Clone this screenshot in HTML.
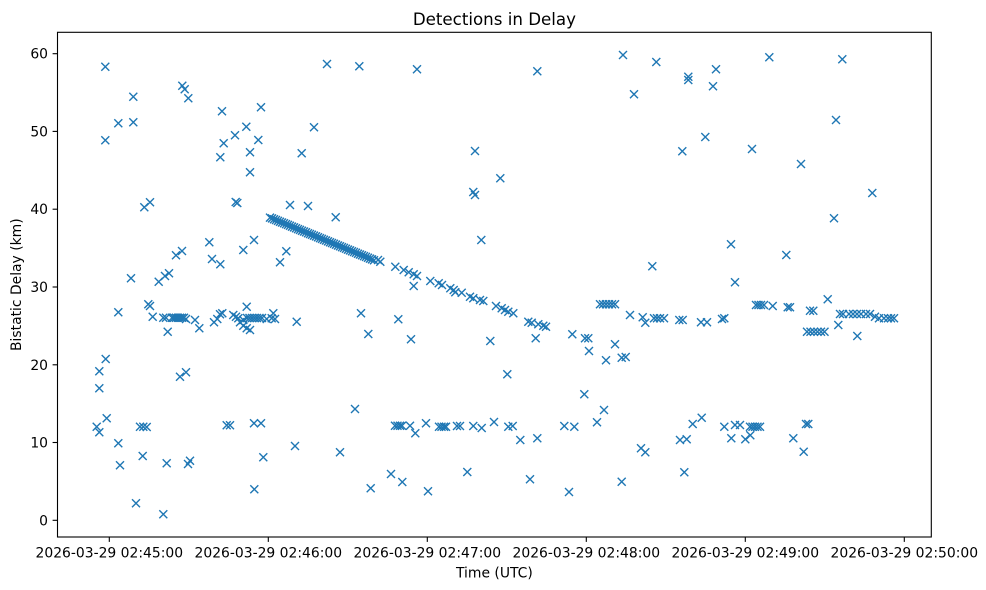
<!DOCTYPE html>
<html><head><meta charset="utf-8"><style>
html,body{margin:0;padding:0;background:#fff;}
svg{display:block;}
text{font-family:"DejaVu Sans","Liberation Sans",sans-serif;fill:#000;}
</style></head><body>
<svg width="986" height="590" viewBox="0 0 986 590" xmlns="http://www.w3.org/2000/svg">
<defs><path id="m" d="M-4,-4L4,4M-4,4L4,-4" stroke="#1f77b4" stroke-width="1.4" fill="none"/></defs>
<rect x="0" y="0" width="986" height="590" fill="#fff"/>
<text x="494.4" y="25" font-size="16.67" text-anchor="middle">Detections in Delay</text>
<g id="pts">
<use href="#m" x="105.3" y="66.7"/><use href="#m" x="133.3" y="96.7"/><use href="#m" x="118.3" y="123.3"/><use href="#m" x="133.3" y="122.3"/><use href="#m" x="105.3" y="140.3"/><use href="#m" x="182.3" y="85.7"/><use href="#m" x="184.7" y="89.3"/><use href="#m" x="188.3" y="98.3"/><use href="#m" x="222" y="111.3"/><use href="#m" x="261" y="107.3"/><use href="#m" x="246.3" y="126.7"/><use href="#m" x="235" y="135.3"/><use href="#m" x="223.7" y="143.3"/><use href="#m" x="258.3" y="140"/><use href="#m" x="220.3" y="157.3"/><use href="#m" x="250" y="152.3"/><use href="#m" x="250" y="172.3"/><use href="#m" x="327" y="64"/><use href="#m" x="314" y="127.3"/><use href="#m" x="301.7" y="153.3"/><use href="#m" x="144.3" y="207.3"/><use href="#m" x="150" y="202.3"/><use href="#m" x="235.7" y="202"/><use href="#m" x="237.3" y="203"/><use href="#m" x="290" y="205"/><use href="#m" x="308" y="206"/><use href="#m" x="335.7" y="217.3"/><use href="#m" x="209.3" y="242.3"/><use href="#m" x="212" y="259"/><use href="#m" x="220.3" y="264.3"/><use href="#m" x="243.3" y="250"/><use href="#m" x="254" y="240"/><use href="#m" x="176" y="255.3"/><use href="#m" x="182" y="251"/><use href="#m" x="280" y="262.3"/><use href="#m" x="286.3" y="251.3"/><use href="#m" x="131" y="278.3"/><use href="#m" x="158.7" y="281.7"/><use href="#m" x="165" y="276"/><use href="#m" x="169" y="273.3"/>
<use href="#m" x="118.3" y="312.3"/><use href="#m" x="148.3" y="304.3"/><use href="#m" x="150" y="306"/><use href="#m" x="152.7" y="316.7"/><use href="#m" x="163.3" y="317.7"/><use href="#m" x="166" y="317.7"/>
<use href="#m" x="172" y="317.7"/><use href="#m" x="174" y="317.7"/><use href="#m" x="176" y="317.7"/><use href="#m" x="178" y="317.7"/><use href="#m" x="180" y="317.7"/><use href="#m" x="182" y="317.7"/><use href="#m" x="184" y="317.7"/>
<use href="#m" x="186" y="319"/><use href="#m" x="167.7" y="331.7"/><use href="#m" x="195" y="320"/><use href="#m" x="199.3" y="328.3"/><use href="#m" x="214" y="322.3"/><use href="#m" x="217.3" y="319"/><use href="#m" x="220" y="314.3"/><use href="#m" x="222.3" y="313.3"/><use href="#m" x="233.3" y="315"/><use href="#m" x="236" y="316.7"/><use href="#m" x="238.3" y="318.3"/><use href="#m" x="246.7" y="306.7"/><use href="#m" x="240" y="322.3"/><use href="#m" x="243.3" y="325.7"/><use href="#m" x="246.7" y="328.3"/><use href="#m" x="243.3" y="320"/>
<use href="#m" x="247" y="318"/><use href="#m" x="249.5" y="318"/><use href="#m" x="252" y="318"/><use href="#m" x="254.5" y="318"/><use href="#m" x="257" y="318"/><use href="#m" x="259.5" y="318"/><use href="#m" x="262" y="318"/>
<use href="#m" x="250" y="330"/><use href="#m" x="266.7" y="319"/><use href="#m" x="271.7" y="318.3"/><use href="#m" x="273.3" y="313.3"/><use href="#m" x="275" y="319"/><use href="#m" x="296.7" y="321.7"/>
<use href="#m" x="105.7" y="359"/><use href="#m" x="99.3" y="371.3"/><use href="#m" x="99.3" y="388.3"/><use href="#m" x="180" y="376.7"/><use href="#m" x="186" y="372.3"/><use href="#m" x="106.7" y="418.3"/><use href="#m" x="96.7" y="426.7"/><use href="#m" x="99.3" y="432.3"/><use href="#m" x="140" y="426.7"/><use href="#m" x="143.3" y="426.7"/><use href="#m" x="146.7" y="427"/><use href="#m" x="226.7" y="425.3"/><use href="#m" x="230" y="425.3"/><use href="#m" x="254" y="423.3"/><use href="#m" x="261" y="423.3"/><use href="#m" x="118.3" y="443.3"/><use href="#m" x="120" y="465.3"/><use href="#m" x="142.7" y="456"/><use href="#m" x="166.7" y="463.3"/><use href="#m" x="188" y="464"/><use href="#m" x="190" y="460.7"/><use href="#m" x="263.3" y="457.3"/><use href="#m" x="295" y="446"/><use href="#m" x="340" y="452.3"/><use href="#m" x="254.3" y="489.3"/><use href="#m" x="136" y="503.3"/><use href="#m" x="163.3" y="514.3"/>
<use href="#m" x="359.3" y="66.3"/><use href="#m" x="417" y="69.3"/><use href="#m" x="537.3" y="71.3"/><use href="#m" x="623" y="55"/><use href="#m" x="634" y="94.3"/><use href="#m" x="475" y="151"/><use href="#m" x="500.3" y="178.3"/><use href="#m" x="473.3" y="192"/><use href="#m" x="475" y="195"/><use href="#m" x="481.3" y="240"/>
<use href="#m" x="270" y="217.6"/><use href="#m" x="272" y="218.4"/><use href="#m" x="274" y="219.2"/><use href="#m" x="276" y="220"/><use href="#m" x="278" y="220.9"/><use href="#m" x="280" y="221.7"/><use href="#m" x="282" y="222.5"/><use href="#m" x="284" y="223.3"/><use href="#m" x="286" y="224.1"/><use href="#m" x="288" y="224.9"/><use href="#m" x="290" y="225.8"/><use href="#m" x="292" y="226.6"/><use href="#m" x="294" y="227.4"/><use href="#m" x="296" y="228.2"/><use href="#m" x="298" y="229.1"/><use href="#m" x="300" y="229.9"/><use href="#m" x="302" y="230.7"/><use href="#m" x="304" y="231.5"/><use href="#m" x="306" y="232.3"/><use href="#m" x="308" y="233.2"/><use href="#m" x="310" y="234"/><use href="#m" x="312" y="234.8"/><use href="#m" x="314" y="235.6"/><use href="#m" x="316" y="236.4"/><use href="#m" x="318" y="237.3"/><use href="#m" x="320" y="238.1"/><use href="#m" x="322" y="238.9"/><use href="#m" x="324" y="239.7"/><use href="#m" x="326" y="240.5"/><use href="#m" x="328" y="241.4"/><use href="#m" x="330" y="242.2"/><use href="#m" x="332" y="243"/><use href="#m" x="334" y="243.8"/><use href="#m" x="336" y="244.6"/><use href="#m" x="338" y="245.5"/><use href="#m" x="340" y="246.3"/><use href="#m" x="342" y="247.1"/><use href="#m" x="344" y="247.9"/><use href="#m" x="346" y="248.7"/><use href="#m" x="348" y="249.6"/><use href="#m" x="350" y="250.4"/><use href="#m" x="352" y="251.2"/><use href="#m" x="354" y="252"/><use href="#m" x="356" y="252.8"/><use href="#m" x="358" y="253.7"/><use href="#m" x="360" y="254.5"/><use href="#m" x="362" y="255.3"/><use href="#m" x="364" y="256.1"/><use href="#m" x="366" y="256.9"/><use href="#m" x="368" y="257.8"/><use href="#m" x="370" y="258.6"/><use href="#m" x="372" y="259.4"/><use href="#m" x="374" y="260.2"/>
<use href="#m" x="378" y="260"/><use href="#m" x="380.3" y="261.7"/><use href="#m" x="395.3" y="266.7"/><use href="#m" x="403.7" y="270"/><use href="#m" x="408.7" y="272.3"/><use href="#m" x="413.7" y="274.3"/><use href="#m" x="417" y="276"/><use href="#m" x="413.7" y="286"/><use href="#m" x="430.3" y="281"/><use href="#m" x="438.7" y="283.3"/><use href="#m" x="442" y="285"/><use href="#m" x="450.3" y="288.3"/><use href="#m" x="453.7" y="290"/><use href="#m" x="455.3" y="292.3"/><use href="#m" x="461.7" y="292.7"/><use href="#m" x="470" y="296.7"/><use href="#m" x="473.3" y="298.3"/><use href="#m" x="480" y="300"/><use href="#m" x="483.3" y="301"/><use href="#m" x="496" y="306"/><use href="#m" x="501.7" y="308.3"/><use href="#m" x="505" y="310"/><use href="#m" x="508.3" y="311.7"/><use href="#m" x="513.3" y="313.3"/><use href="#m" x="528.3" y="321.7"/><use href="#m" x="531.7" y="322.7"/><use href="#m" x="538.3" y="324.3"/><use href="#m" x="543.3" y="325.7"/><use href="#m" x="546" y="326.7"/>
<use href="#m" x="600" y="304.3"/><use href="#m" x="603" y="304.3"/><use href="#m" x="606" y="304.3"/><use href="#m" x="609" y="304.3"/><use href="#m" x="612" y="304.3"/><use href="#m" x="615" y="304.3"/>
<use href="#m" x="630" y="315"/><use href="#m" x="361" y="313.3"/><use href="#m" x="368.3" y="334"/><use href="#m" x="398.3" y="319.3"/><use href="#m" x="411" y="339.3"/><use href="#m" x="490.3" y="341"/><use href="#m" x="535.7" y="338.3"/><use href="#m" x="572.3" y="334.3"/><use href="#m" x="585" y="338.3"/><use href="#m" x="588.3" y="338.3"/><use href="#m" x="589" y="351"/><use href="#m" x="615" y="344.3"/><use href="#m" x="606" y="360.3"/><use href="#m" x="621.7" y="357.7"/><use href="#m" x="625.7" y="357"/><use href="#m" x="507.3" y="374.3"/><use href="#m" x="584.3" y="394.3"/><use href="#m" x="604" y="410"/><use href="#m" x="597" y="422.3"/><use href="#m" x="355" y="409"/>
<use href="#m" x="395" y="425.7"/><use href="#m" x="397.5" y="425.7"/><use href="#m" x="400" y="425.7"/><use href="#m" x="402" y="425.7"/>
<use href="#m" x="410" y="425.7"/><use href="#m" x="415.3" y="433.3"/><use href="#m" x="426" y="423.3"/>
<use href="#m" x="439" y="426.7"/><use href="#m" x="441.5" y="426.7"/><use href="#m" x="444" y="426.7"/><use href="#m" x="446" y="426.7"/>
<use href="#m" x="457" y="426"/><use href="#m" x="460" y="426"/><use href="#m" x="473.3" y="426"/><use href="#m" x="481.7" y="428"/><use href="#m" x="494" y="422"/><use href="#m" x="508.3" y="426.7"/><use href="#m" x="512.7" y="426"/><use href="#m" x="520.3" y="440"/><use href="#m" x="537.3" y="438.3"/><use href="#m" x="564.3" y="426"/><use href="#m" x="574.3" y="426.7"/>
<use href="#m" x="391" y="474"/><use href="#m" x="402.3" y="482"/><use href="#m" x="370.7" y="488.3"/><use href="#m" x="428" y="491.3"/><use href="#m" x="467.3" y="472"/><use href="#m" x="530" y="479.3"/><use href="#m" x="569" y="492"/><use href="#m" x="621.7" y="481.7"/>
<use href="#m" x="656.3" y="62"/><use href="#m" x="688.3" y="76.7"/><use href="#m" x="688.3" y="80"/><use href="#m" x="716" y="69.3"/><use href="#m" x="713" y="86.3"/><use href="#m" x="769.3" y="57.3"/><use href="#m" x="842.3" y="59.3"/><use href="#m" x="836" y="120"/><use href="#m" x="705.3" y="137"/><use href="#m" x="682.3" y="151.3"/><use href="#m" x="752" y="149"/><use href="#m" x="801" y="164"/><use href="#m" x="872.3" y="193"/><use href="#m" x="834" y="218.3"/><use href="#m" x="731" y="244.3"/><use href="#m" x="786.3" y="255"/><use href="#m" x="652.3" y="266.3"/><use href="#m" x="735" y="282.3"/>
<use href="#m" x="642.7" y="317.3"/><use href="#m" x="645.3" y="322.7"/><use href="#m" x="654" y="318.3"/><use href="#m" x="657" y="318.3"/><use href="#m" x="660" y="318.3"/><use href="#m" x="664" y="318.3"/><use href="#m" x="679.3" y="320"/><use href="#m" x="682.7" y="320"/><use href="#m" x="701" y="322.3"/><use href="#m" x="707" y="322.3"/><use href="#m" x="722" y="319"/><use href="#m" x="724.3" y="318.3"/>
<use href="#m" x="756" y="305"/><use href="#m" x="758.5" y="305"/><use href="#m" x="761" y="305"/><use href="#m" x="764" y="305"/><use href="#m" x="772.7" y="306"/><use href="#m" x="787.7" y="307.3"/><use href="#m" x="790" y="307.3"/><use href="#m" x="810" y="310.7"/><use href="#m" x="813.3" y="310.7"/><use href="#m" x="827.7" y="299.3"/>
<use href="#m" x="807" y="331.7"/><use href="#m" x="810.5" y="331.7"/><use href="#m" x="814" y="331.7"/><use href="#m" x="817.5" y="331.7"/><use href="#m" x="821" y="331.7"/><use href="#m" x="824.5" y="331.7"/>
<use href="#m" x="838.3" y="325"/><use href="#m" x="857.3" y="336"/>
<use href="#m" x="840" y="314"/><use href="#m" x="843" y="314"/><use href="#m" x="849" y="314"/><use href="#m" x="853" y="314"/><use href="#m" x="857" y="314"/><use href="#m" x="861" y="314"/><use href="#m" x="866" y="314"/><use href="#m" x="870" y="314"/><use href="#m" x="875" y="316.7"/>
<use href="#m" x="879" y="318.3"/><use href="#m" x="884" y="318.3"/><use href="#m" x="888" y="318.3"/><use href="#m" x="891" y="318.3"/><use href="#m" x="894" y="318.3"/>
<use href="#m" x="641" y="448.3"/><use href="#m" x="645.3" y="452.3"/><use href="#m" x="680" y="440"/><use href="#m" x="686.7" y="439.3"/><use href="#m" x="684.3" y="472.3"/><use href="#m" x="692.7" y="424"/><use href="#m" x="701.7" y="417.7"/><use href="#m" x="724.3" y="426.7"/><use href="#m" x="731.3" y="438.3"/><use href="#m" x="735" y="425"/><use href="#m" x="740" y="425"/><use href="#m" x="745.3" y="439.3"/><use href="#m" x="750.3" y="435.3"/>
<use href="#m" x="750" y="426.7"/><use href="#m" x="752.5" y="426.7"/><use href="#m" x="755" y="426.7"/><use href="#m" x="757.5" y="426.7"/><use href="#m" x="760" y="426.7"/>
<use href="#m" x="793.3" y="438.3"/><use href="#m" x="803.7" y="451.7"/><use href="#m" x="806" y="424"/><use href="#m" x="808.3" y="424"/>
</g>
<rect x="57.5" y="32.3" width="873.8" height="504.7" fill="none" stroke="#000" stroke-width="1.1"/>
<g stroke="#000" stroke-width="1.1">
<line x1="52.6" y1="520.3" x2="57.5" y2="520.3"/><line x1="52.6" y1="442.5" x2="57.5" y2="442.5"/><line x1="52.6" y1="364.8" x2="57.5" y2="364.8"/><line x1="52.6" y1="287" x2="57.5" y2="287"/><line x1="52.6" y1="209.2" x2="57.5" y2="209.2"/><line x1="52.6" y1="131.4" x2="57.5" y2="131.4"/><line x1="52.6" y1="53.7" x2="57.5" y2="53.7"/>
<line x1="109.3" y1="537" x2="109.3" y2="541.9"/><line x1="268.3" y1="537" x2="268.3" y2="541.9"/><line x1="427.3" y1="537" x2="427.3" y2="541.9"/><line x1="586.3" y1="537" x2="586.3" y2="541.9"/><line x1="745.3" y1="537" x2="745.3" y2="541.9"/><line x1="904.3" y1="537" x2="904.3" y2="541.9"/>
</g>
<g font-size="13.9" text-anchor="end">
<text x="48" y="525.3">0</text><text x="48" y="447.5">10</text><text x="48" y="369.8">20</text><text x="48" y="292">30</text><text x="48" y="214.2">40</text><text x="48" y="136.4">50</text><text x="48" y="58.7">60</text>
</g>
<g font-size="13.9" text-anchor="middle">
<text x="109.3" y="557.5">2026-03-29 02:45:00</text><text x="268.3" y="557.5">2026-03-29 02:46:00</text><text x="427.3" y="557.5">2026-03-29 02:47:00</text><text x="586.3" y="557.5">2026-03-29 02:48:00</text><text x="745.3" y="557.5">2026-03-29 02:49:00</text><text x="904.3" y="557.5">2026-03-29 02:50:00</text>
</g>
<text x="494.4" y="577.5" font-size="13.9" text-anchor="middle">Time (UTC)</text>
<text transform="translate(21,284.7) rotate(-90)" font-size="13.9" text-anchor="middle">Bistatic Delay (km)</text>
</svg>
</body></html>
